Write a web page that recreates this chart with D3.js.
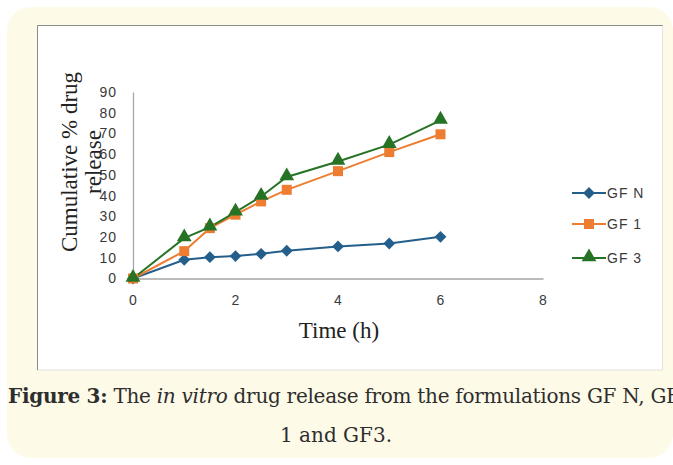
<!DOCTYPE html>
<html><head><meta charset="utf-8">
<script src="https://cdn.jsdelivr.net/npm/d3@7"></script>
<style>html,body{margin:0;padding:0;background:#fff;}svg{display:block;}</style>
</head><body>
<script>
const time = [0, 1, 1.5, 2, 2.5, 3, 4, 5, 6];
const gfN = [0, 9, 10.3, 10.8, 11.9, 13.4, 15.5, 16.9, 20.1];
const gf1 = [0, 13.2, 24.3, 30.8, 37.2, 42.8, 51.8, 61, 69.6];
const gf3 = [0, 19.5, 24.8, 32, 39.6, 49, 56.5, 64.6, 76.3];
const seriesNames = ["GF N", "GF 1", "GF 3"];
const xTicks = [0, 2, 4, 6, 8];
const yTicks = [0, 10, 20, 30, 40, 50, 60, 70, 80, 90];
const colors = ["#245f8c", "#ed7d31", "#267326"];
const markers = [d3.symbolSquare, d3.symbolSquare, d3.symbolTriangle];
const rotations = [45, 0, 0];

const W = 673, H = 465;
const svg = d3.select("body").append("svg").attr("width", W).attr("height", H);

// cream background box
svg.append("rect").attr("x", 7).attr("y", 7).attr("width", 666).attr("height", 451)
  .attr("rx", 24).attr("fill", "#fefae8");
// chart panel
svg.append("rect").attr("x", 37.5).attr("y", 25.5).attr("width", 625).attr("height", 344.5)
  .attr("fill", "#fff").attr("stroke", "#e2e2e2");
svg.append("path").attr("d", "M37.5,370V25.5H662.5").attr("fill", "none").attr("stroke", "#8a8a8a");

const x = d3.scaleLinear().domain([0, 8]).range([133, 543]);
const y = d3.scaleLinear().domain([0, 90]).range([278.5, 92]);

// axes
const xAxis = svg.append("g").attr("transform", `translate(0,${y(0)})`)
  .call(d3.axisBottom(x).tickValues(xTicks).tickSize(0).tickPadding(17));
const yAxis = svg.append("g").attr("transform", `translate(${x(0)},0)`)
  .call(d3.axisLeft(y).tickValues(yTicks).tickSize(0).tickPadding(16));
[xAxis, yAxis].forEach(a => {
  a.select(".domain").attr("stroke", "#a6a6a6").attr("stroke-width", 1.3);
  a.selectAll("text").attr("font-family", "Liberation Sans, Arial, sans-serif")
    .attr("font-size", 14).attr("letter-spacing", 1).attr("fill", "#3a3a3a");
});

const data = [gfN, gf1, gf3];
const line = d3.line().x((d, i) => x(time[i])).y(d => y(d));
data.forEach((s, k) => {
  svg.append("path").datum(s).attr("d", line).attr("fill", "none")
    .attr("stroke", colors[k]).attr("stroke-width", 2);
});
const sizes = [70, 100, 95];
data.forEach((s, k) => {
  svg.append("g").selectAll("path").data(s).join("path")
    .attr("transform", (d, i) => `translate(${x(time[i])},${y(d) + (k === 2 ? -1 : 0)}) rotate(${rotations[k]})`)
    .attr("d", d3.symbol(markers[k], sizes[k])).attr("fill", colors[k]);
});

// legend
const legY = [193, 224, 258];
seriesNames.forEach((n, k) => {
  const g = svg.append("g");
  g.append("line").attr("x1", 572).attr("x2", 606).attr("y1", legY[k]).attr("y2", legY[k])
    .attr("stroke", colors[k]).attr("stroke-width", 2);
  g.append("path").attr("transform", `translate(589,${legY[k] - (k === 2 ? 1 : 0)}) rotate(${rotations[k]})`)
    .attr("d", d3.symbol(markers[k], sizes[k])).attr("fill", colors[k]);
  g.append("text").attr("x", 607).attr("y", legY[k] + 5).text(n)
    .attr("font-family", "Liberation Sans, Arial, sans-serif").attr("font-size", 14)
    .attr("letter-spacing", 1).attr("fill", "#3a3a3a");
});

// axis titles
svg.append("text").attr("x", 339).attr("y", 338).attr("text-anchor", "middle")
  .attr("font-family", "Liberation Serif, Times New Roman, serif").attr("font-size", 23).attr("fill", "#222")
  .text("Time (h)");
const yt = svg.append("text").attr("transform", "translate(0,162) rotate(-90)")
  .attr("text-anchor", "middle").attr("font-family", "Liberation Serif, Times New Roman, serif")
  .attr("font-size", 23).attr("fill", "#222");
yt.append("tspan").attr("x", 0).attr("y", 77).text("Cumulative % drug");
yt.append("tspan").attr("x", 0).attr("y", 101).text("release");

// caption
const cap = svg.append("text").attr("x", 8).attr("y", 403)
  .attr("textLength", 672).attr("lengthAdjust", "spacing")
  .attr("font-family", "DejaVu Serif, serif").attr("font-size", 20).attr("fill", "#2e2e2e");
cap.append("tspan").attr("font-weight", "bold").text("Figure 3:");
cap.append("tspan").text(" The ");
cap.append("tspan").attr("font-style", "italic").text("in vitro");
cap.append("tspan").text(" drug release from the formulations GF N, GF");
svg.append("text").attr("x", 336).attr("y", 442).attr("text-anchor", "middle")
  .attr("font-family", "DejaVu Serif, serif").attr("font-size", 20).attr("fill", "#2e2e2e")
  .text("1 and GF3.");
</script>
</body></html>
